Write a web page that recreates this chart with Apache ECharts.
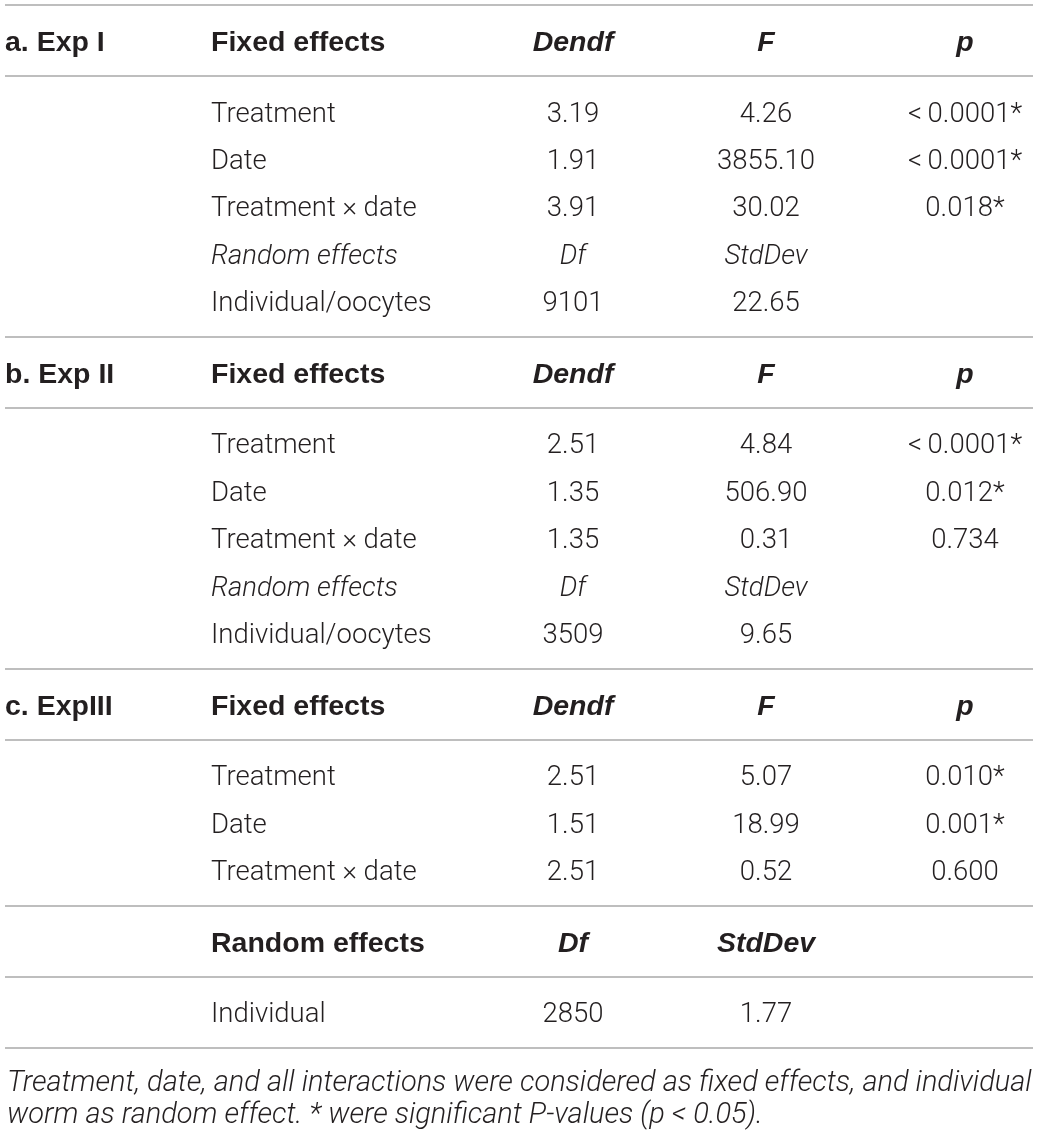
<!DOCTYPE html>
<html lang="en">
<head>
<meta charset="utf-8">
<title>Mixed model table</title>
<script src="https://cdn.jsdelivr.net/npm/echarts@6/dist/echarts.min.js"></script>
<style>
  html, body { margin: 0; padding: 0; background: #fff; }
  #main { width: 1039px; height: 1134px; }
</style>
</head>
<body>
<div id="main"></div>
<script>
// ---- table content ----
var sectionLabels = ['a. Exp I', 'b. Exp II', 'c. ExpIII'];
var headerCols = ['Fixed effects', 'Dendf', 'F', 'p'];
var fixedTerms = ['Treatment', 'Date', 'Treatment \u00d7 date'];
var randomHead = ['Random effects', 'Df', 'StdDev'];

var expIDendf = ['3.19', '1.91', '3.91'];
var expIF = ['4.26', '3855.10', '30.02'];
var expIP = ['<\u20090.0001*', '<\u20090.0001*', '0.018*'];
var expIRandom = ['Individual/oocytes', '9101', '22.65'];

var expIIDendf = ['2.51', '1.35', '1.35'];
var expIIF = ['4.84', '506.90', '0.31'];
var expIIP = ['<\u20090.0001*', '0.012*', '0.734'];
var expIIRandom = ['Individual/oocytes', '3509', '9.65'];

var expIIIDendf = ['2.51', '1.51', '2.51'];
var expIIIF = ['5.07', '18.99', '0.52'];
var expIIIP = ['0.010*', '0.001*', '0.600'];
var expIIIRandom = ['Individual', '2850', '1.77'];

var footnote = 'Treatment, date, and all interactions were considered as fixed effects, and individual\n' +
    'worm as random effect. * were significant P-values (p < 0.05).';

// ---- layout ----
var UNIT = 11.85;          // px per row unit
var TOP = 5;               // first rule
var colX = [5, 211, 573, 766, 965];
var colAlign = ['left', 'left', 'center', 'center', 'center'];
var INK = '#231f20';
var LIGHT = 'Roboto, "Liberation Sans", sans-serif';
var BOLD = '"Liberation Sans", Arial, sans-serif';

var cells = [];
var rules = [0];
var cursor = 0;

function addRow(texts, styles, startCol) {
    texts.forEach(function (t, i) {
        cells.push({ col: startCol + i, y: cursor, text: t, style: styles[i] });
    });
}
function headerBlock(texts, styles, startCol) {
    cursor += 3; addRow(texts, styles, startCol);
    cursor += 3; rules.push(cursor);
}
function bodyBlock(rows) {
    rows.forEach(function (r, i) {
        cursor += (i === 0 ? 3 : 4);
        addRow(r.texts, r.styles, 1);
    });
    cursor += 3; rules.push(cursor);
}

var sections = [
    { label: sectionLabels[0], dendf: expIDendf, f: expIF, p: expIP, rnd: expIRandom },
    { label: sectionLabels[1], dendf: expIIDendf, f: expIIF, p: expIIP, rnd: expIIRandom },
    { label: sectionLabels[2], dendf: expIIIDendf, f: expIIIF, p: expIIIP, rnd: expIIIRandom }
];

sections.forEach(function (s, si) {
    headerBlock([s.label].concat(headerCols), ['bold', 'bold', 'boldItalic', 'boldItalic', 'boldItalic'], 0);
    var rows = fixedTerms.map(function (term, i) {
        return { texts: [term, s.dendf[i], s.f[i], s.p[i]], styles: ['light', 'light', 'light', 'light'] };
    });
    if (si < 2) {
        rows.push({ texts: randomHead, styles: ['lightItalic', 'lightItalic', 'lightItalic'] });
        rows.push({ texts: s.rnd, styles: ['light', 'light', 'light'] });
        bodyBlock(rows);
    } else {
        bodyBlock(rows);
        headerBlock(randomHead, ['bold', 'boldItalic', 'boldItalic'], 1);
        bodyBlock([{ texts: s.rnd, styles: ['light', 'light', 'light'] }]);
    }
});

var styleMap = {
    light: { fontFamily: LIGHT, fontWeight: 300, fontStyle: 'normal', fontSize: 27.5 },
    lightItalic: { fontFamily: LIGHT, fontWeight: 300, fontStyle: 'italic', fontSize: 27.5 },
    bold: { fontFamily: BOLD, fontWeight: 'bold', fontStyle: 'normal', fontSize: 28.5 },
    boldItalic: { fontFamily: BOLD, fontWeight: 'bold', fontStyle: 'italic', fontSize: 28.5 }
};

var cellData = cells.map(function (c) {
    var st = styleMap[c.style];
    return {
        value: [colX[c.col], c.y],
        label: {
            show: true,
            position: 'inside',
            formatter: c.text,
            align: colAlign[c.col],
            verticalAlign: 'middle',
            offset: [0, 3],
            color: INK,
            opacity: 1,
            fontSize: st.fontSize,
            fontFamily: st.fontFamily,
            fontWeight: st.fontWeight,
            fontStyle: st.fontStyle
        }
    };
});

var chart = echarts.init(document.getElementById('main'), null, { renderer: 'canvas' });

var option = {
    animation: false,
    backgroundColor: '#ffffff',
    title: {
        text: footnote,
        left: 2,
        top: 1063,
        textStyle: {
            color: INK,
            fontFamily: LIGHT,
            fontWeight: 300,
            fontStyle: 'italic',
            fontSize: 29,
            lineHeight: 32
        }
    },
    grid: { left: 0, right: 0, top: 0, bottom: 0 },
    xAxis: { type: 'value', min: 0, max: 1039, show: false },
    yAxis: {
        type: 'value', inverse: true, show: false,
        min: -TOP / UNIT, max: (1134 - TOP) / UNIT
    },
    series: [{
        type: 'scatter',
        symbolSize: 0,
        silent: true,
        itemStyle: { opacity: 1 },
        data: cellData,
        markLine: {
            silent: true,
            symbol: ['none', 'none'],
            label: { show: false },
            lineStyle: { color: '#a9a9a9', width: 1.6, type: 'solid', opacity: 1 },
            data: rules.map(function (r) {
                return [{ coord: [5, r] }, { coord: [1033, r] }];
            })
        }
    }]
};

chart.setOption(option);
window.addEventListener('resize', chart.resize);
</script>
</body>
</html>
